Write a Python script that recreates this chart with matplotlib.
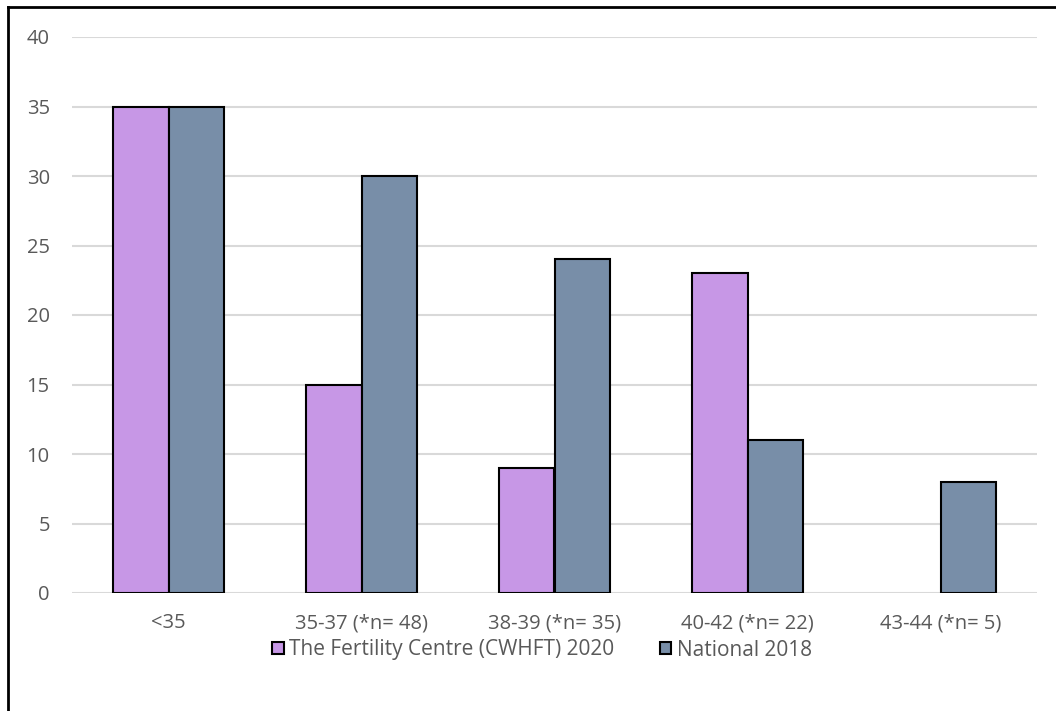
import numpy as np
import matplotlib.pyplot as plt
from matplotlib.patches import Rectangle
from matplotlib.lines import Line2D

categories = ['<35', '35-37 (*n= 48)', '38-39 (*n= 35)', '40-42 (*n= 22)', '43-44 (*n= 5)']
centre_2020 = [35, 15, 9, 23, 0]
national_2018 = [35, 30, 24, 11, 8]
series_names = ['The Fertility Centre (CWHFT) 2020', 'National 2018']
yticks = [0, 5, 10, 15, 20, 25, 30, 35, 40]

plt.rcParams['font.family'] = ['Open Sans', 'DejaVu Sans']

fig = plt.figure(figsize=(10.56, 7.11), dpi=100)
ax = fig.add_axes([72 / 1056, 118 / 711, 965 / 1056, 556 / 711])

x = np.arange(len(categories))
w = 0.285
pink = '#c797e6'
slate = '#788ea8'
# zero-valued bars get no outline
lw_2020 = [1.5 if v > 0 else 0 for v in centre_2020]
ax.bar(x - w / 2, centre_2020, w, color=pink, edgecolor='black', linewidth=lw_2020, zorder=3)
ax.bar(x + w / 2, national_2018, w, color=slate, edgecolor='black', linewidth=1.5, zorder=3)

ax.set_xlim(-0.5, len(categories) - 0.5)
ax.set_ylim(0, 40)
ax.set_yticks(yticks)
ax.set_xticks(x)
ax.set_xticklabels(categories)
ax.yaxis.grid(True, color='#d9d9d9', linewidth=1.5, zorder=0)
for s in ax.spines.values():
    s.set_visible(False)
ax.tick_params(length=0, labelsize=14.5, labelcolor='#595959')
ax.tick_params(axis='x', pad=14.5)
ax.tick_params(axis='y', pad=16)

handles = [Rectangle((0, 0), 1, 1, facecolor=pink, edgecolor='black', linewidth=1.5),
           Rectangle((0, 0), 1, 1, facecolor=slate, edgecolor='black', linewidth=1.5)]
fig.legend(handles, series_names, loc='center', bbox_to_anchor=(542 / 1056, 1 - 650 / 711),
           ncol=2, frameon=False, fontsize=15, labelcolor='#595959',
           handlelength=0.55, handleheight=0.55, handletextpad=0.25, columnspacing=2.2)

# chart frame on the left and top
fig.add_artist(Line2D([8 / 1056, 8 / 1056], [0, 1 - 7 / 711], color='black', linewidth=2))
fig.add_artist(Line2D([8 / 1056, 1], [1 - 7 / 711, 1 - 7 / 711], color='black', linewidth=2))

fig.savefig('out.png', dpi=100)
